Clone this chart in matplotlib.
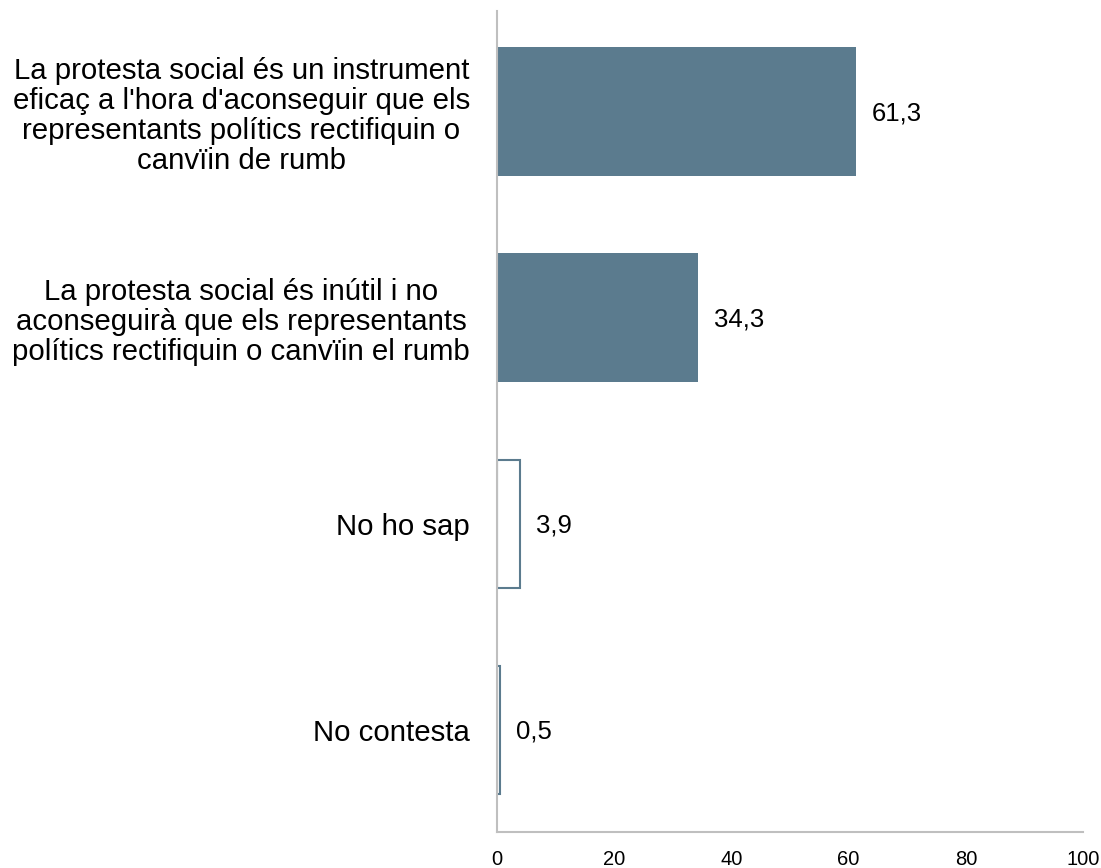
import matplotlib.pyplot as plt

categories = [
    "La protesta social és un instrument\neficaç a l'hora d'aconseguir que els\nrepresentants polítics rectifiquin o\ncanvïin de rumb",
    "La protesta social és inútil i no\naconseguirà que els representants\npolítics rectifiquin o canvïin el rumb",
    "No ho sap",
    "No contesta",
]
values = [61.3, 34.3, 3.9, 0.5]
value_labels = ["61,3", "34,3", "3,9", "0,5"]
filled = [True, True, False, False]
xticks = [0, 20, 40, 60, 80, 100]

plt.rcParams['font.family'] = ['Liberation Sans', 'DejaVu Sans']

color = '#5b7b8e'
grey = '#bfbfbf'

fig = plt.figure(figsize=(11.01, 8.68), dpi=100)
ax = fig.add_axes([0.4514, 0.0415, 0.5323, 0.946])

pos = list(range(len(categories)))
for p, v, f in zip(pos, values, filled):
    if f:
        ax.barh(p, v, height=0.625, color=color, edgecolor='none')
    else:
        ax.barh(p, v, height=0.625, facecolor='white', edgecolor=color, linewidth=1.5)

for p, v, lab in zip(pos, values, value_labels):
    ax.annotate(lab, (v, p), xytext=(16, -2), textcoords='offset pixels',
                va='center', ha='left', fontsize=18.5)

ax.set_xlim(0, 100)
ax.set_ylim(3.495, -0.49)
ax.set_yticks(pos)
ax.set_yticklabels(categories, fontsize=21.2, ha='right', multialignment='center',
                   linespacing=1.1)
ax.set_xticks(xticks)
ax.set_xticklabels([str(t) for t in xticks], fontsize=14.5)
ax.tick_params(axis='y', length=0, pad=19.5)
ax.tick_params(axis='x', length=0, pad=13)

for s in ['top', 'right']:
    ax.spines[s].set_visible(False)
for s in ['left', 'bottom']:
    ax.spines[s].set_color(grey)
    ax.spines[s].set_linewidth(1.5)

fig.savefig('out.png', dpi=100)
